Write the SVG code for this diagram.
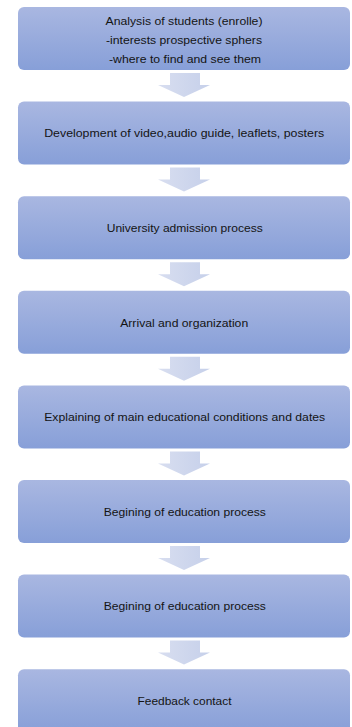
<svg xmlns="http://www.w3.org/2000/svg" width="352" height="727" viewBox="0 0 352 727">
<defs>
<linearGradient id="gBox" x1="0" y1="0" x2="0" y2="1">
<stop offset="0" stop-color="#a9b7e1"/>
<stop offset="1" stop-color="#879fd8"/>
</linearGradient>
<linearGradient id="gArr" x1="0" y1="0" x2="1" y2="0">
<stop offset="0" stop-color="#d8def0"/>
<stop offset="1" stop-color="#c6d0ea"/>
</linearGradient>
<path id="arr" d="M170,0 H200 V12 H210 L184,24 L158,12 H170 Z"/>
</defs>
<style>
.box{fill:url(#gBox);}
.arr{fill:url(#gArr);}
text{font-family:"Liberation Sans",Arial,sans-serif;font-size:11.5px;fill:#141414;text-anchor:middle;}
</style>
<rect width="352" height="727" fill="#ffffff"/>
<g id="connectors">
<use href="#arr" class="arr" y="73"/>
<use href="#arr" class="arr" y="167.6"/>
<use href="#arr" class="arr" y="262.2"/>
<use href="#arr" class="arr" y="356.8"/>
<use href="#arr" class="arr" y="451.4"/>
<use href="#arr" class="arr" y="546"/>
<use href="#arr" class="arr" y="640.6"/>
</g>
<g id="n1">
<rect class="box" x="18" y="7" width="332" height="63" rx="6"/>
<text x="184" y="25.3" textLength="157" lengthAdjust="spacingAndGlyphs">Analysis of students (enrolle)</text>
<text x="184" y="44" textLength="156" lengthAdjust="spacingAndGlyphs">-interests prospective sphers</text>
<text x="185" y="63" textLength="152" lengthAdjust="spacingAndGlyphs">-where to find and see them</text>
</g>
<g id="n2">
<rect class="box" x="18" y="101.6" width="332" height="63" rx="6"/>
<text x="184.2" y="137.4" textLength="280" lengthAdjust="spacingAndGlyphs">Development of video,audio guide, leaflets, posters</text>
</g>
<g id="n3">
<rect class="box" x="18" y="196.2" width="332" height="63" rx="6"/>
<text x="184.7" y="232" textLength="156" lengthAdjust="spacingAndGlyphs">University admission process</text>
</g>
<g id="n4">
<rect class="box" x="18" y="290.8" width="332" height="63" rx="6"/>
<text x="184.2" y="326.6" textLength="128" lengthAdjust="spacingAndGlyphs">Arrival and organization</text>
</g>
<g id="n5">
<rect class="box" x="18" y="385.4" width="332" height="63" rx="6"/>
<text x="184.7" y="421.2" textLength="281" lengthAdjust="spacingAndGlyphs">Explaining of main educational conditions and dates</text>
</g>
<g id="n6">
<rect class="box" x="18" y="480" width="332" height="63" rx="6"/>
<text x="184.8" y="515.8" textLength="162" lengthAdjust="spacingAndGlyphs">Begining of education process</text>
</g>
<g id="n7">
<rect class="box" x="18" y="574.6" width="332" height="63" rx="6"/>
<text x="184.8" y="610.4" textLength="162" lengthAdjust="spacingAndGlyphs">Begining of education process</text>
</g>
<g id="n8">
<rect class="box" x="18" y="669.2" width="332" height="63" rx="6"/>
<text x="184.5" y="705" textLength="94" lengthAdjust="spacingAndGlyphs">Feedback contact</text>
</g>
</svg>
